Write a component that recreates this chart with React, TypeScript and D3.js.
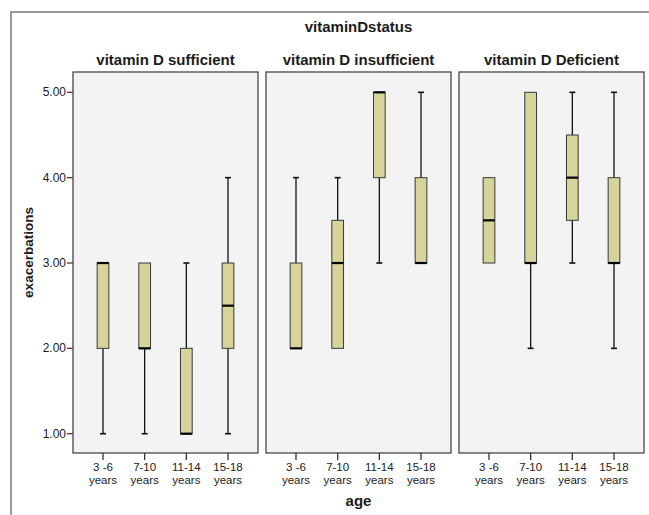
import React, { useEffect, useRef } from "react";
import * as d3 from "d3";

const ageGroups = ["3 -6|years", "7-10|years", "11-14|years", "15-18|years"];
const statusGroups = ["vitamin D sufficient", "vitamin D insufficient", "vitamin D Deficient"];
const yTicks = [1, 2, 3, 4, 5];

// min, q1, median, q3, max per age group
const sufficientBoxes = [
  [1, 2, 3, 3, 3],
  [1, 2, 2, 3, 3],
  [1, 1, 1, 2, 3],
  [1, 2, 2.5, 3, 4],
];
const insufficientBoxes = [
  [2, 2, 2, 3, 4],
  [2, 2, 3, 3.5, 4],
  [3, 4, 5, 5, 5],
  [3, 3, 3, 4, 5],
];
const deficientBoxes = [
  [3, 3, 3.5, 4, 4],
  [2, 3, 3, 5, 5],
  [3, 3.5, 4, 4.5, 5],
  [2, 3, 3, 4, 5],
];

const panelData = [sufficientBoxes, insufficientBoxes, deficientBoxes];

const App = () => {
  const chartRef = useRef<HTMLDivElement>(null);

  useEffect(() => {
    const width = 649;
    const height = 515;
    const font = "'Liberation Sans', Arial, sans-serif";
    const ink = "#1c1c1c";

    const panelTop = 72;
    const panelBottom = 453;
    const panelLeft = 73;
    const panelW = 185;
    const panelGap = 8;

    const svg = d3
      .select(chartRef.current)
      .html("")
      .append("svg")
      .attr("width", width)
      .attr("height", height)
      .style("display", "block")
      .style("font-family", font);

    svg.append("rect").attr("width", width).attr("height", height).attr("fill", "#fff");

    // outer frame (right/bottom edges fall outside the picture)
    svg
      .append("path")
      .attr("d", `M11,${height} L11,12 L${width},12`)
      .attr("fill", "none")
      .attr("stroke", "#7a7a7a")
      .attr("stroke-width", 1.5);

    const y = d3.scaleLinear().domain([0.774, 5.238]).range([panelBottom, panelTop]);
    const x = d3.scalePoint().domain(ageGroups).range([0, panelW]).padding(0.72);

    svg
      .append("text")
      .attr("x", panelLeft + (3 * panelW + 2 * panelGap) / 2)
      .attr("y", 32)
      .attr("text-anchor", "middle")
      .attr("font-size", 15)
      .attr("font-weight", "bold")
      .attr("fill", ink)
      .text("vitaminDstatus");

    // y axis
    const yAxis = svg.append("g");
    yTicks.forEach((t) => {
      yAxis
        .append("line")
        .attr("x1", panelLeft - 6)
        .attr("x2", panelLeft)
        .attr("y1", y(t))
        .attr("y2", y(t))
        .attr("stroke", "#333")
        .attr("stroke-width", 1.2);
      yAxis
        .append("text")
        .attr("x", panelLeft - 7)
        .attr("y", y(t) + 4)
        .attr("text-anchor", "end")
        .attr("font-size", 12)
        .attr("fill", ink)
        .text(t.toFixed(2));
    });

    svg
      .append("text")
      .attr("transform", `translate(33,${(panelTop + panelBottom) / 2 - 10}) rotate(-90)`)
      .attr("text-anchor", "middle")
      .attr("font-size", 13.5)
      .attr("font-weight", "bold")
      .attr("fill", ink)
      .text("exacerbations");

    const boxW = 11.7;
    const capW = 6;

    statusGroups.forEach((status, i) => {
      const left = panelLeft + i * (panelW + panelGap);
      const g = svg.append("g").attr("transform", `translate(${left},0)`);

      g.append("rect")
        .attr("x", 0)
        .attr("y", panelTop)
        .attr("width", panelW)
        .attr("height", panelBottom - panelTop)
        .attr("fill", "#f3f3f3")
        .attr("stroke", "#474747")
        .attr("stroke-width", 1.3);

      g.append("text")
        .attr("x", panelW / 2)
        .attr("y", 65)
        .attr("text-anchor", "middle")
        .attr("font-size", 15)
        .attr("font-weight", "bold")
        .attr("fill", ink)
        .text(status);

      panelData[i].forEach(([mn, q1, med, q3, mx], j) => {
        const cx = x(ageGroups[j]) as number;
        // whiskers
        if (mx > q3) {
          g.append("line").attr("x1", cx).attr("x2", cx).attr("y1", y(q3)).attr("y2", y(mx))
            .attr("stroke", "#111").attr("stroke-width", 1.3);
          g.append("line").attr("x1", cx - capW / 2).attr("x2", cx + capW / 2).attr("y1", y(mx)).attr("y2", y(mx))
            .attr("stroke", "#111").attr("stroke-width", 1.6);
        }
        if (mn < q1) {
          g.append("line").attr("x1", cx).attr("x2", cx).attr("y1", y(q1)).attr("y2", y(mn))
            .attr("stroke", "#111").attr("stroke-width", 1.3);
          g.append("line").attr("x1", cx - capW / 2).attr("x2", cx + capW / 2).attr("y1", y(mn)).attr("y2", y(mn))
            .attr("stroke", "#111").attr("stroke-width", 1.6);
        }
        g.append("rect")
          .attr("x", cx - boxW / 2)
          .attr("y", y(q3))
          .attr("width", boxW)
          .attr("height", y(q1) - y(q3))
          .attr("fill", "#d6d39b")
          .attr("stroke", "#3a3a3a")
          .attr("stroke-width", 1);
        g.append("line")
          .attr("x1", cx - boxW / 2)
          .attr("x2", cx + boxW / 2)
          .attr("y1", y(med))
          .attr("y2", y(med))
          .attr("stroke", "#000")
          .attr("stroke-width", 2.2);
      });

      // x ticks and labels
      ageGroups.forEach((a) => {
        const cx = x(a) as number;
        g.append("line")
          .attr("x1", cx)
          .attr("x2", cx)
          .attr("y1", panelBottom)
          .attr("y2", panelBottom + 7)
          .attr("stroke", "#333")
          .attr("stroke-width", 1.3);
        const [l1, l2] = a.split("|");
        g.append("text")
          .attr("x", cx)
          .attr("y", 471)
          .attr("text-anchor", "middle")
          .attr("font-size", 11.5)
          .attr("fill", ink)
          .text(l1);
        g.append("text")
          .attr("x", cx)
          .attr("y", 484)
          .attr("text-anchor", "middle")
          .attr("font-size", 11.5)
          .attr("fill", ink)
          .text(l2);
      });
    });

    svg
      .append("text")
      .attr("x", panelLeft + (3 * panelW + 2 * panelGap) / 2)
      .attr("y", 506)
      .attr("text-anchor", "middle")
      .attr("font-size", 15)
      .attr("font-weight", "bold")
      .attr("fill", ink)
      .text("age");
  }, []);

  return <div ref={chartRef} style={{ position: "absolute", left: 0, top: 0 }}></div>;
};

export default App;
